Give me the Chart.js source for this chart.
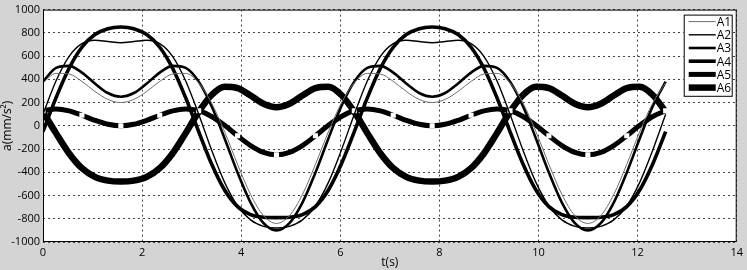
<!DOCTYPE html>
<html>
<head>
<meta charset="utf-8">
<script src="https://cdn.jsdelivr.net/npm/chart.js@4"></script>
<style>
  html, body { margin: 0; padding: 0; background: #d4d4d4; }
  #wrap { width: 747px; height: 270px; }
</style>
</head>
<body>
<div id="wrap"><canvas id="accChart" width="747" height="270"></canvas></div>
<script>
// t(s), one sample every 15 degrees over two periods
const tiempos = [0, 0.262, 0.524, 0.785, 1.047, 1.309, 1.571, 1.833, 2.094, 2.356, 2.618, 2.880, 3.142,
  3.403, 3.665, 3.927, 4.189, 4.451, 4.712, 4.974, 5.236, 5.498, 5.760, 6.021, 6.283,
  6.545, 6.807, 7.069, 7.330, 7.592, 7.854, 8.116, 8.378, 8.639, 8.901, 9.163, 9.425,
  9.687, 9.948, 10.210, 10.472, 10.734, 10.996, 11.257, 11.519, 11.781, 12.043, 12.305, 12.566];

const a1 = [370, 451, 446, 382, 296, 227, 200, 227, 296, 382, 446, 451, 370, 196, -51, -332, -591, -774, -840, -774, -591, -332, -51, 196, 370,
  451, 446, 382, 296, 227, 200, 227, 296, 382, 446, 451, 370, 196, -51, -332, -591, -774, -840, -774, -591, -332, -51, 196, 370];
const a2 = [100, 386, 596, 707, 736, 725, 715, 725, 736, 707, 596, 386, 100, -210, -487, -690, -810, -865, -880, -865, -810, -690, -487, -210, 100,
  386, 596, 707, 736, 725, 715, 725, 736, 707, 596, 386, 100, -210, -487, -690, -810, -865, -880, -865, -810, -690, -487, -210, 100];
const a3 = [380, 498, 516, 458, 364, 282, 250, 282, 364, 458, 516, 498, 380, 168, -109, -403, -661, -838, -900, -838, -661, -403, -109, 168, 380,
  498, 516, 458, 364, 282, 250, 282, 364, 458, 516, 498, 380, 168, -109, -403, -661, -838, -900, -838, -661, -403, -109, 168, 380];
const a4 = [-50, 240, 493, 676, 785, 836, 850, 836, 785, 676, 493, 240, -50, -329, -553, -696, -765, -787, -790, -787, -765, -696, -553, -329, -50,
  240, 493, 676, 785, 836, 850, 836, 785, 676, 493, 240, -50, -329, -553, -696, -765, -787, -790, -787, -765, -696, -553, -329, -50];
const a5 = [130, 145, 129, 91, 47, 13, 0, 13, 47, 91, 129, 145, 130, 80, 4, -86, -170, -229, -250, -229, -170, -86, 4, 80, 130,
  145, 129, 91, 47, 13, 0, 13, 47, 91, 129, 145, 130, 80, 4, -86, -170, -229, -250, -229, -170, -86, 4, 80, 130];
const a6 = [120, -63, -236, -365, -440, -472, -480, -472, -440, -365, -236, -63, 120, 265, 336, 325, 260, 190, 160, 190, 260, 325, 336, 265, 120,
  -63, -236, -365, -440, -472, -480, -472, -440, -365, -236, -63, 120, 265, 336, 325, 260, 190, 160, 190, 260, 325, 336, 265, 120];

const nombres = ['A1', 'A2', 'A3', 'A4', 'A5', 'A6'];
const series = [a1, a2, a3, a4, a5, a6];
const colores = ['#6e6e6e', '#000', '#000', '#000', '#000', '#000'];
const grosores = [1, 1.4, 2.6, 3.6, 5, 6.5];

const fuente = '"Open Sans", "DejaVu Sans", sans-serif';

function puntos(valores) {
  return valores.map((v, i) => ({ x: tiempos[i], y: v }));
}

const datasets = series.map((s, i) => ({
  label: nombres[i],
  data: puntos(s),
  borderColor: colores[i],
  borderWidth: grosores[i],
  pointRadius: 0,
  cubicInterpolationMode: 'monotone',
  fill: false
}));

// A5 carries small white squares every 45 degrees
datasets[4].pointStyle = 'rect';
datasets[4].pointRadius = ctx => (ctx.dataIndex % 3 === 0 ? 3.6 : 0);
datasets[4].pointBackgroundColor = '#fff';
datasets[4].pointBorderWidth = 0;

const fondo = {
  id: 'fondo',
  beforeDraw(chart) {
    const c = chart.ctx, a = chart.chartArea;
    c.save();
    c.fillStyle = '#d4d4d4';
    c.fillRect(0, 0, chart.width, chart.height);
    c.fillStyle = '#fff';
    c.fillRect(a.left, a.top, a.right - a.left, a.bottom - a.top);
    c.restore();
  }
};

const marco = {
  id: 'marco',
  afterDraw(chart) {
    const c = chart.ctx, a = chart.chartArea;
    c.save();
    c.strokeStyle = '#000';
    c.lineWidth = 1;
    c.strokeRect(a.left + 0.5, a.top + 0.5, a.right - a.left - 1, a.bottom - a.top - 1);

    // legend box in the upper right corner
    const w = 48, fila = 13.2;
    const x0 = a.right - w - 5, y0 = a.top + 5;
    const h = fila * chart.data.datasets.length + 2;
    c.fillStyle = '#fff';
    c.fillRect(x0, y0, w, h);
    c.strokeRect(x0 + 0.5, y0 + 0.5, w, h);
    c.font = '12px ' + fuente;
    c.textBaseline = 'middle';
    c.textAlign = 'left';
    chart.data.datasets.forEach((ds, i) => {
      const y = y0 + 7 + i * fila;
      c.strokeStyle = ds.borderColor;
      c.lineWidth = ds.borderWidth;
      c.beginPath();
      c.moveTo(x0 + 5, y);
      c.lineTo(x0 + 32, y);
      c.stroke();
      c.fillStyle = '#000';
      c.fillText(ds.label, x0 + 33, y + 1);
    });
    c.restore();
  }
};

new Chart(document.getElementById('accChart'), {
  type: 'line',
  data: { datasets: datasets },
  options: {
    responsive: false,
    animation: false,
    devicePixelRatio: 1,
    layout: { padding: { top: 6, right: 5, left: 0, bottom: 0 } },
    plugins: {
      legend: { display: false },
      tooltip: { enabled: false }
    },
    scales: {
      x: {
        type: 'linear',
        min: 0,
        max: 14,
        afterFit: s => { s.height = 28; },
        border: { display: false, dash: [2, 3] },
        grid: { color: '#444', lineWidth: 1, drawTicks: false },
        ticks: { stepSize: 2, padding: 4, color: '#000', font: { family: fuente, size: 11 }, maxRotation: 0,
          callback: v => String(v) },
        title: { display: true, text: 't(s)', color: '#000', font: { family: fuente, size: 12 }, padding: { top: 0, bottom: 0 } }
      },
      y: {
        min: -1000,
        max: 1000,
        afterFit: s => { s.width = 43; },
        border: { display: false, dash: [2, 3] },
        grid: { color: '#444', lineWidth: 1, drawTicks: false },
        ticks: { stepSize: 200, padding: 3, color: '#000', font: { family: fuente, size: 11 },
          callback: v => String(v) },
        title: { display: true, text: 'a(mm/s²)', color: '#000', font: { family: fuente, size: 12 }, padding: { top: 0, bottom: 0 } }
      }
    }
  },
  plugins: [fondo, marco]
});
</script>
</body>
</html>
